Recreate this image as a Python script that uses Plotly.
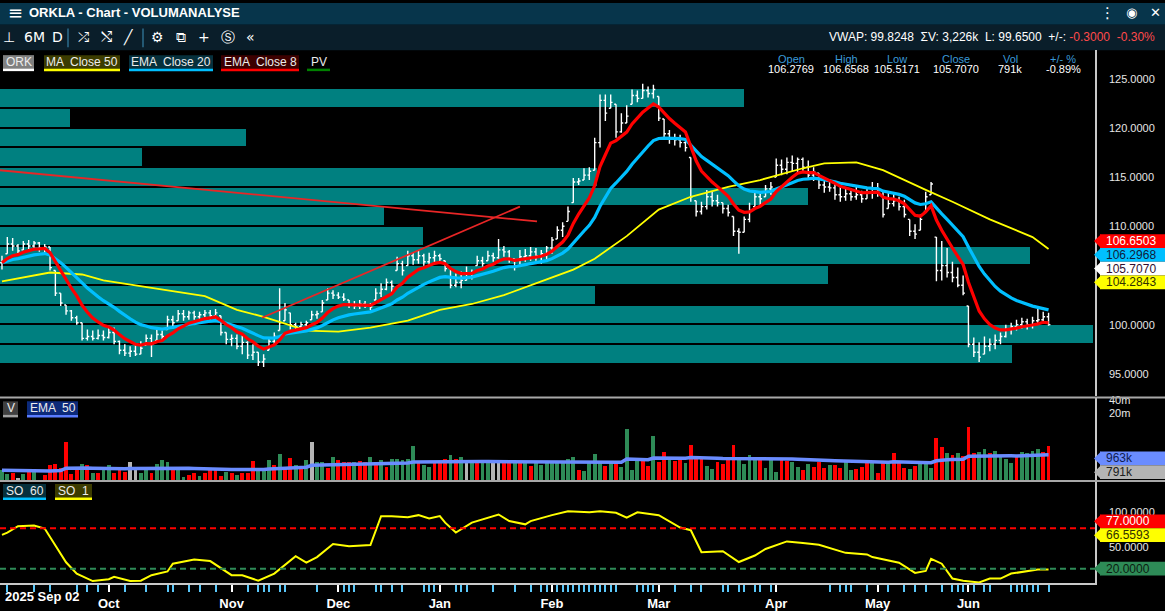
import numpy as np
import pandas as pd
import plotly.graph_objects as go

W, H = 1165, 611

# daily bars, ORKLA, Sep 2025 -> Jun 2026
close = [106.3, 108.2, 108.0, 107.5, 108.2, 108.0, 108.3, 107.8, 107.9, 105.8,
         103.2, 102.2, 101.4, 100.7, 100.2, 98.6, 98.8, 98.6, 98.9, 98.7,
         99.2, 98.3, 97.4, 97.1, 97.3, 97.0, 97.6, 98.6, 98.0, 99.0,
         98.8, 100.5, 100.2, 101.1, 100.8, 101.2, 100.8, 101.0, 101.2, 100.9,
         101.2, 99.2, 98.5, 98.6, 97.8, 98.2, 96.9, 97.2, 96.2, 96.5,
         98.3, 98.8, 100.2, 101.5, 100.0, 99.8, 100.0, 100.2, 101.0, 101.1,
         102.2, 103.2, 103.0, 102.8, 102.6, 102.0, 101.9, 102.1, 101.9, 101.8,
         103.2, 103.6, 104.3, 103.9, 106.2, 105.5, 107.0, 106.6, 107.0, 106.4,
         106.8, 107.0, 106.7, 105.7, 104.0, 104.3, 104.5, 105.2, 105.3, 106.5,
         106.2, 107.0, 106.8, 107.6, 107.4, 106.7, 106.0, 106.9, 107.0, 107.4,
         107.0, 107.2, 107.8, 108.6, 109.6, 110.0, 111.5, 114.5, 114.6, 115.2,
         115.6, 118.5, 122.8, 121.5, 122.6, 119.6, 120.5, 121.2, 123.3, 123.0,
         123.8, 123.5, 123.9, 121.0, 119.4, 119.0, 118.8, 118.5, 118.0, 113.0,
         111.5, 112.0, 113.0, 112.6, 112.4, 111.8, 111.4, 109.5, 109.4, 110.7,
         111.6, 113.0, 112.8, 113.8, 114.0, 116.2, 115.8, 116.5, 116.4, 116.8,
         116.0, 115.2, 115.5, 114.2, 114.0, 113.9, 113.2, 113.0, 113.3, 113.0,
         113.2, 112.8, 113.5, 113.4, 113.6, 111.2, 112.3, 112.6, 112.0, 111.2,
         109.5, 109.2, 110.7, 113.0, 114.3, 105.5, 106.0, 105.3, 104.8, 104.0,
         103.2, 98.0, 97.2, 96.7, 97.8, 98.0, 98.4, 98.8, 99.5, 99.8,
         100.0, 100.3, 100.0, 100.4, 100.5, 100.8, 100.0]

high = [107.0, 108.9, 108.8, 108.2, 108.5, 108.6, 108.5, 108.4, 108.2, 107.9,
        105.5, 103.2, 102.0, 101.5, 100.9, 100.2, 99.5, 99.4, 99.5, 99.4,
        99.9, 99.7, 98.4, 98.0, 97.8, 97.9, 98.3, 99.0, 99.0, 99.5,
        99.4, 100.9, 100.9, 101.5, 101.5, 101.4, 101.4, 101.3, 101.5, 101.5,
        101.6, 100.9, 99.2, 99.0, 99.0, 98.9, 98.3, 98.0, 97.2, 97.0,
        98.7, 99.2, 103.7, 102.2, 101.2, 100.2, 100.3, 100.4, 101.4, 101.4,
        102.5, 103.7, 103.5, 103.3, 103.2, 102.5, 102.4, 102.5, 102.4, 102.2,
        103.7, 104.2, 104.7, 104.5, 106.9, 106.5, 107.5, 107.3, 107.5, 107.2,
        107.3, 107.5, 107.2, 106.5, 105.7, 105.2, 105.4, 105.9, 105.6, 107.0,
        106.9, 107.5, 107.3, 108.7, 108.0, 107.6, 106.7, 107.6, 107.7, 107.9,
        107.8, 107.6, 108.0, 108.9, 110.0, 110.4, 112.0, 114.9, 114.9, 115.9,
        116.0, 119.0, 123.4, 123.4, 123.4, 122.4, 121.5, 122.3, 123.9, 123.8,
        124.5, 124.2, 124.4, 123.2, 120.9, 119.8, 119.4, 119.3, 118.8, 117.0,
        112.6, 112.5, 113.7, 113.5, 113.2, 112.4, 112.2, 111.0, 109.8, 111.0,
        112.4, 113.5, 113.3, 114.2, 114.5, 116.9, 116.8, 117.0, 117.2, 117.0,
        117.0, 116.7, 116.0, 115.4, 115.0, 114.8, 114.4, 114.2, 113.8, 113.9,
        114.0, 113.6, 114.0, 114.5, 114.4, 113.7, 113.5, 113.4, 113.0, 112.7,
        110.7, 110.2, 111.2, 113.5, 114.5, 108.9, 108.5, 107.8, 106.4, 105.8,
        105.0, 101.9, 98.7, 98.2, 98.8, 98.6, 99.0, 99.2, 100.0, 100.2,
        100.5, 100.7, 100.6, 100.8, 101.7, 101.3, 101.2]

low = [105.6, 107.2, 107.5, 107.2, 107.6, 107.7, 107.6, 107.4, 107.3, 105.5,
       102.9, 101.9, 101.0, 100.4, 100.0, 98.4, 98.4, 98.4, 98.5, 98.4,
       98.6, 98.0, 97.0, 96.8, 96.7, 96.8, 97.0, 97.9, 96.7, 98.4,
       98.3, 99.5, 99.6, 100.4, 100.4, 100.5, 100.5, 100.5, 100.5, 100.5,
       100.6, 98.9, 98.0, 97.8, 97.5, 97.0, 96.5, 96.4, 95.8, 95.7,
       97.4, 98.0, 99.4, 100.4, 99.5, 99.4, 99.4, 99.5, 100.5, 100.6,
       101.3, 102.5, 102.6, 102.6, 102.4, 101.7, 101.6, 101.6, 101.7, 101.5,
       102.5, 102.8, 103.5, 103.2, 105.5, 105.0, 106.0, 106.1, 106.2, 106.0,
       106.1, 106.3, 106.4, 105.4, 103.7, 103.8, 103.7, 104.5, 104.6, 106.0,
       105.9, 106.5, 106.4, 106.7, 106.9, 106.3, 105.5, 106.0, 106.4, 106.5,
       106.5, 106.2, 106.6, 107.2, 108.7, 108.9, 110.5, 112.4, 114.2, 114.7,
       114.7, 115.7, 118.0, 120.7, 122.0, 119.0, 119.5, 120.5, 122.4, 122.6,
       123.0, 123.1, 123.0, 120.7, 119.0, 118.4, 118.2, 118.0, 117.6, 112.5,
       111.0, 111.2, 111.7, 112.0, 112.0, 111.3, 111.0, 109.0, 107.2, 109.4,
       110.4, 112.0, 112.2, 113.0, 113.2, 115.0, 115.2, 115.3, 115.6, 115.4,
       115.5, 114.8, 114.6, 113.8, 113.4, 113.5, 112.7, 112.5, 112.6, 112.6,
       112.7, 112.4, 112.8, 112.8, 113.0, 110.9, 111.8, 112.0, 111.6, 110.9,
       109.0, 108.7, 109.6, 111.5, 113.2, 104.4, 104.5, 104.8, 104.3, 103.8,
       103.0, 97.7, 96.7, 96.2, 97.0, 97.3, 97.5, 98.0, 98.7, 99.0,
       99.4, 99.6, 99.5, 99.6, 100.0, 100.2, 99.9]

# volume in thousands of shares
volume_k = [907, 734, 774, 593, 734, 816, 907, 533, 695, 1180,
            1250, 1010, 4040, 734, 957, 1250, 1180, 774, 774, 957,
            1180, 774, 907, 816, 1390, 1060, 774, 1010, 774, 1250,
            1550, 1390, 1010, 1010, 625, 695, 774, 659, 774, 1010,
            907, 659, 816, 774, 695, 774, 774, 1470, 907, 907,
            1550, 1180, 2130, 1010, 1720, 1180, 1010, 1550, 4040, 1390,
            1390, 1010, 1820, 1550, 1390, 1390, 1390, 1470, 1390, 1820,
            1390, 1550, 1060, 1630, 1630, 1550, 1630, 3260, 1390, 1180,
            1060, 1390, 1390, 1630, 2020, 1630, 1820, 1390, 1390, 1390,
            1550, 1550, 1390, 1390, 1550, 1470, 1390, 1390, 1390, 1120,
            1390, 1180, 1390, 1320, 1390, 1390, 1630, 1820, 907, 860,
            1390, 2130, 1390, 1120, 1390, 1390, 1060, 8080, 907, 1550,
            1550, 1120, 5560, 1390, 2370, 1720, 1470, 1550, 1320, 3440,
            1820, 1820, 1120, 957, 1390, 1250, 1630, 3440, 1550, 1250,
            2020, 1820, 1630, 1010, 1630, 816, 1630, 1470, 1390, 1060,
            907, 1250, 1060, 1390, 1010, 1180, 1180, 1010, 1390, 907,
            957, 1060, 1320, 1320, 774, 1320, 1320, 2250, 1320, 1010,
            957, 1120, 1390, 1390, 1010, 5000, 3100, 2250, 2020, 2250,
            1920, 8990, 2250, 2370, 2780, 2250, 2500, 1820, 1630, 1320,
            1820, 2370, 2250, 2500, 2780, 2370, 3260]

# day direction as coloured in the volume panel: 1 up, -1 down, 0 unchanged
vol_dir = [1, 1, -1, 0, 1, -1, 1, -1, -1, -1,
           -1, -1, -1, -1, -1, 1, -1, 1, -1, 1,
           1, -1, -1, -1, 0, 0, 1, 1, -1, 1,
           1, 1, -1, 1, 1, -1, -1, 1, -1, -1,
           -1, -1, 1, -1, 1, -1, -1, -1, 1, 1,
           1, -1, 1, -1, -1, 1, -1, 1, 0, 1,
           1, -1, 1, -1, -1, -1, 1, -1, -1, 1,
           -1, 1, -1, 1, 1, 1, 1, 1, -1, 1,
           1, -1, -1, -1, 1, -1, 1, 0, 1, -1,
           1, 1, 0, 0, -1, -1, 1, -1, 1, -1,
           1, 1, 1, 1, 1, 1, 1, 1, -1, 1,
           1, 1, 1, -1, 1, -1, 1, 1, 1, 1,
           -1, -1, 1, -1, -1, 1, -1, -1, 1, -1,
           -1, -1, 1, 1, -1, -1, -1, -1, 1, 1,
           1, 1, -1, 1, 1, 1, -1, -1, 1, 1,
           -1, 1, -1, -1, -1, 1, -1, -1, 1, 1,
           -1, -1, -1, 1, -1, -1, 1, -1, -1, -1,
           1, -1, 1, 1, 1, -1, -1, 1, -1, 1,
           -1, -1, -1, 1, 1, -1, 1, 1, 1, 1,
           -1, 1, 1, 1, 1, -1, -1]

# MA Close 50 (read at sample bars)
ma50_idx = [0, 9, 15, 19, 25, 31, 38, 44, 49, 53, 57, 63, 69, 76, 82, 88, 94,
            101, 107, 111, 117, 123, 129, 136, 142, 150, 154, 160, 165, 173,
            178, 185, 193, 196]
ma50_val = [104.4, 105.3, 105.1, 104.5, 104.0, 103.5, 102.9, 101.5, 100.8, 100.1,
            99.4, 99.3, 99.7, 100.4, 101.5, 102.1, 103.0, 104.4, 105.6, 106.7,
            109.0, 111.7, 113.0, 114.0, 114.7, 115.9, 116.4, 116.5, 115.7, 113.7,
            112.5, 110.7, 108.9, 107.7]

# stochastic (SO 1)
so_idx = [0, 1, 3, 6, 8, 10, 12, 14, 17, 20, 21, 24, 26, 28, 31, 32, 36, 39, 43, 45,
          48, 51, 53, 55, 57, 59, 62, 65, 69, 70, 71, 73, 76, 78, 80, 82, 83, 85, 88, 93,
          95, 98, 99, 103, 106, 110, 112, 115, 117, 119, 123, 127, 129, 131, 135, 138,
          141, 143, 147, 150, 153, 158, 162, 163, 167, 168, 171, 173, 174, 176, 178,
          180, 183, 185, 187, 189, 194, 196]
so_val = [67.7, 71, 80, 81, 76.6, 52, 29, 13, 2.4, 5, 8.5, 2.4, 3, 10.7, 16, 27, 33,
          30.7, 10.7, 10.7, 3, 13, 26, 37.7, 28.4, 36.3, 54.8, 51.6, 53.4, 75, 94,
          94.2, 92.8, 95.6, 91, 94.2, 85, 71, 85, 96.5, 87.2, 82.6, 87.2, 95.6, 101,
          99.7, 101, 98.9, 92, 99.7, 95.6, 78, 74.3, 43.2, 44.6, 29.3, 38.5, 47.8,
          58.5, 56.2, 53.8, 42.3, 40, 36.3, 29.3, 28.4, 14, 16.8, 34, 27, 6, 3, 0.5,
          6, 6, 13, 18.6, 18.6]
so_levels = [77, 20]

# volume profile (PV), % of the largest price bucket
pv_price = [123, 121, 119, 117, 115, 113, 111, 109, 107, 105, 103, 101, 99, 97]
pv_pct = [67.9, 6.4, 22.5, 13.0, 54.5, 73.8, 35.1, 38.6, 94.1, 75.6, 54.3, 88.4, 99.8, 92.4]

# drawn trend lines
trend_a_x, trend_a_y = [-0.4, 100.2], [115.7, 110.5]
trend_b_x, trend_b_y = [48.7, 97.0], [100.7, 112.0]

month_idx = [20, 43, 63, 82, 103, 123, 145, 164, 181]
month_txt = ["Oct", "Nov", "Dec", "Jan", "Feb", "Mar", "Apr", "May", "Jun"]
event_idx = [1, 6, 9, 14, 16, 18, 23, 27, 31, 32, 35, 37, 40, 46, 48, 49, 50, 52, 53,
             59, 64, 65, 66, 70, 71, 73, 75, 79, 80, 81, 85, 86, 87, 92, 96, 99, 101,
             102, 103, 104, 105, 106, 107, 108, 109, 110, 111, 112, 113, 114, 115,
             119, 120, 121, 122, 126, 129, 131, 135, 136, 138, 139, 141, 142, 144,
             155, 157, 158, 159, 162, 164, 166, 169, 171, 173, 176, 178, 179, 180,
             181, 182, 184, 185, 189, 190, 191, 192, 193, 194, 196]

FONT = "Liberation Sans, Arial, sans-serif"
RED, GREEN, CYAN, YELLOW = "#ff0000", "#2e8b57", "#00bfff", "#ffff00"
X_LO, X_HI = -0.37, 204.7


def px(p):
    return p / W


def py(p):
    return 1 - p / H


idx = list(range(len(close)))
c = pd.Series(close)
ema8 = c.ewm(span=8, adjust=False).mean()
ema20 = c.ewm(span=20, adjust=False).mean()
opens = c.shift(1).fillna(c.iloc[0]).clip(lower=pd.Series(low), upper=pd.Series(high))
vol = pd.Series(volume_k) * 1000
vol_ema = vol.ewm(span=50, adjust=False).mean()
vol_col = [{1: GREEN, -1: RED, 0: "#b4b4b4"}[d] for d in vol_dir]
pv_len = [p / 100 * (X_HI - X_LO) for p in pv_pct]

fig = go.Figure()

# price panel
fig.add_trace(go.Bar(y=pv_price, x=pv_len, base=X_LO, orientation="h", width=1.8,
                     marker=dict(color="#008080", line_width=0), xaxis="x", yaxis="y"))
fig.add_trace(go.Ohlc(x=idx, open=opens, high=high, low=low, close=close,
                      increasing=dict(line=dict(color="white", width=1.4)),
                      decreasing=dict(line=dict(color="white", width=1.4)),
                      tickwidth=0.35, xaxis="x", yaxis="y"))
fig.add_trace(go.Scatter(x=ma50_idx, y=ma50_val, mode="lines",
                         line=dict(color=YELLOW, width=1.8), xaxis="x", yaxis="y"))
fig.add_trace(go.Scatter(x=idx, y=ema20, mode="lines",
                         line=dict(color=CYAN, width=3.2), xaxis="x", yaxis="y"))
fig.add_trace(go.Scatter(x=idx, y=ema8, mode="lines",
                         line=dict(color=RED, width=3.2), xaxis="x", yaxis="y"))
for tx, ty in [(trend_a_x, trend_a_y), (trend_b_x, trend_b_y)]:
    fig.add_trace(go.Scatter(x=tx, y=ty, mode="lines", line=dict(color="#e82626", width=1.8),
                             xaxis="x", yaxis="y"))

# volume panel
fig.add_trace(go.Bar(x=idx, y=vol, marker=dict(color=vol_col, line_width=0), width=0.72,
                     xaxis="x2", yaxis="y2"))
fig.add_trace(go.Scatter(x=idx, y=vol_ema, mode="lines",
                         line=dict(color="#6a8cff", width=3.5), xaxis="x2", yaxis="y2"))

# stochastic panel
fig.add_trace(go.Scatter(x=so_idx, y=so_val, mode="lines",
                         line=dict(color=YELLOW, width=2), xaxis="x3", yaxis="y3"))
for lvl, col in zip(so_levels, [RED, GREEN]):
    fig.add_shape(type="line", xref="x3 domain", yref="y3", x0=0, x1=1, y0=lvl, y1=lvl,
                  line=dict(color=col, width=2, dash="6px,4px"))

axis_common = dict(showgrid=False, zeroline=False, range=[X_LO, X_HI], domain=[0, px(1095)])
yaxis_common = dict(showgrid=False, zeroline=False, side="right", showline=True,
                    linecolor="#c8c8c8", linewidth=1.5, ticks="", ticklabelstandoff=10,
                    tickfont=dict(color="#e6e6e6", size=11, family=FONT))

fig.update_layout(
    width=W, height=H, autosize=False, margin=dict(l=0, r=0, t=0, b=0),
    paper_bgcolor="black", plot_bgcolor="black", showlegend=False, hovermode=False,
    bargap=0,
    xaxis=dict(**axis_common, anchor="y", showticklabels=False, rangeslider=dict(visible=False)),
    yaxis=dict(**yaxis_common, anchor="x", domain=[py(400), py(48)], range=[92.7, 127.9],
               tickvals=[95, 100, 110, 115, 120, 125], tickformat=".4f"),
    xaxis2=dict(**axis_common, anchor="y2", matches="x", showticklabels=False),
    yaxis2=dict(**yaxis_common, anchor="x2", type="log", domain=[py(486), py(401)],
                range=[5.702, 7.671], tickvals=[2e7, 4e7], ticktext=["20m", "40m"]),
    xaxis3=dict(**axis_common, anchor="y3", matches="x", tickmode="array",
                tickvals=month_idx, ticktext=month_txt, ticks="outside", ticklen=7,
                tickwidth=1.5, tickcolor="white", showline=True, linecolor="#c8c8c8",
                linewidth=1.5,
                tickfont=dict(color="white", size=13, family=FONT, weight="bold"),
                minor=dict(tickmode="array", tickvals=event_idx, ticks="outside",
                           ticklen=7, tickwidth=2, tickcolor="#5ac8fa")),
    yaxis3=dict(**yaxis_common, anchor="x3", domain=[py(590), py(486)],
                range=[-0.8, 143.8], tickvals=[50, 100], tickformat=".4f"),
)


def text(x, y, s, size=12, color="white", anchor="left", bold=False, fam=FONT):
    fig.add_annotation(x=px(x), y=py(y), xref="paper", yref="paper", text=s,
                       showarrow=False, xanchor=anchor, yanchor="middle",
                       font=dict(size=size, color=color, family=fam,
                                 weight="bold" if bold else "normal"))


def rect(x0, y0, x1, y1, color):
    fig.add_shape(type="rect", xref="paper", yref="paper", x0=px(x0), x1=px(x1),
                  y0=py(y1), y1=py(y0), fillcolor=color, line_width=0, layer="below")


def hline(x0, x1, y, color, width):
    fig.add_shape(type="line", xref="paper", yref="paper", x0=px(x0), x1=px(x1),
                  y0=py(y), y1=py(y), line=dict(color=color, width=width))


def badge(x0, x1, y, s, bg, under):
    fig.add_shape(type="rect", xref="paper", yref="paper", x0=px(x0), x1=px(x1),
                  y0=py(y + 7), y1=py(y - 7), fillcolor=bg, line_width=0)
    hline(x0, x1, y + 8, under, 2.5)
    text((x0 + x1) / 2, y, s, size=12, color="#ececec", anchor="center")


def tag(y, s, bg, fg):
    fig.add_shape(type="path", xref="paper", yref="paper", fillcolor=bg, line_width=0,
                  path=f"M {px(1094)} {py(y)} L {px(1101)} {py(y - 7)} "
                       f"L {px(1101)} {py(y + 7)} Z")
    fig.add_shape(type="rect", xref="paper", yref="paper", x0=px(1100), x1=px(1165),
                  y0=py(y + 7), y1=py(y - 7), fillcolor=bg, line_width=0)
    text(1104, y, s, size=12, color=fg)


# window chrome
rect(0, 0, W, 22, "#07354b")
rect(0, 22, W, 48, "#0a1e2a")
text(6, 10, "≡", size=18, color="white", fam="DejaVu Sans")
text(27, 10, "ORKLA - Chart - VOLUMANALYSE", size=13, bold=True)
text(1107, 10, "⋮", size=15, anchor="center", fam="DejaVu Sans")
text(1131, 10, "◉", size=13, anchor="center", fam="DejaVu Sans")
text(1155, 10, "✕", size=13, anchor="center", fam="DejaVu Sans")
for s, x in [("⊥", 9), ("6M", 34), ("D", 57), ("⤮", 83), ("⤭", 106), ("╱", 128),
             ("⚙", 157), ("⧉", 181), ("+", 204), ("Ⓢ", 228), ("«", 250)]:
    text(x, 35, s, size=14, anchor="center", fam="DejaVu Sans")
for x in [68, 143]:
    fig.add_shape(type="line", xref="paper", yref="paper", x0=px(x), x1=px(x),
                  y0=py(26), y1=py(45), line=dict(color="#2c6c8c", width=1.5))
text(1157, 35, "VWAP: 99.8248  ΣV: 3,226k  L: 99.6500  +/-: "
     "<span style='color:#ff4a4a'>-0.3000  -0.30%</span>", size=12, anchor="right")

# panel separators
hline(0, W, 401, "#a8a8a8", 2)
hline(0, W, 486, "#a8a8a8", 2)

# legends
badge(3, 34, 60, "ORK", "#808080", "white")
badge(44, 120, 60, "MA  Close 50", "#3c3c00", YELLOW)
badge(129, 213, 60, "EMA  Close 20", "#06303c", CYAN)
badge(221, 299, 60, "EMA  Close 8", "#3c0000", RED)
badge(307, 330, 60, "PV", "black", "#008000")
badge(3, 18, 412, "V", "#404040", "#a0a0a0")
badge(27, 78, 412, "EMA  50", "#0c2a7a", "#5a7cff")
badge(3, 46, 496, "SO  60", "#06303c", CYAN)
badge(55, 92, 496, "SO  1", "#3c3c00", YELLOW)

# header stats
for x, lab, val in [(791, "Open", "106.2769"), (846, "High", "106.6568"),
                    (897, "Low", "105.5171"), (956, "Close", "105.7070"),
                    (1010, "Vol", "791k"), (1063, "+/- %", "-0.89%")]:
    text(x, 57, lab, size=11, color="#3a9ad9", anchor="center")
    text(x, 67, val, size=11, color="white", anchor="center")

# value tags on the right axis
tag(242, "106.6503", RED, "white")
tag(256, "106.2968", CYAN, "#10203a")
tag(270, "105.7070", "white", "#301030")
tag(284, "104.2843", YELLOW, "#303000")
tag(463, "963k", "#6a8cff", "#101c50")
tag(477, "791k", "#b4b4b4", "#202020")
tag(527, "77.0000", RED, "white")
tag(541, "66.5593", YELLOW, "#303000")
tag(575, "20.0000", GREEN, "#0c1c10")

text(3, 603, "2025 Sep 02", size=13, bold=True)

fix_page = (
    "document.documentElement.style.overflow='hidden';"
    "document.body.style.margin='0';document.body.style.overflow='hidden';"
    "document.body.style.background='black';"
    "var d=document.getElementById('{plot_id}');"
    "d.style.position='fixed';d.style.left='0px';d.style.top='0px';"
)
fig.write_html("out.html", config={"displayModeBar": False, "responsive": False},
               post_script=fix_page)
